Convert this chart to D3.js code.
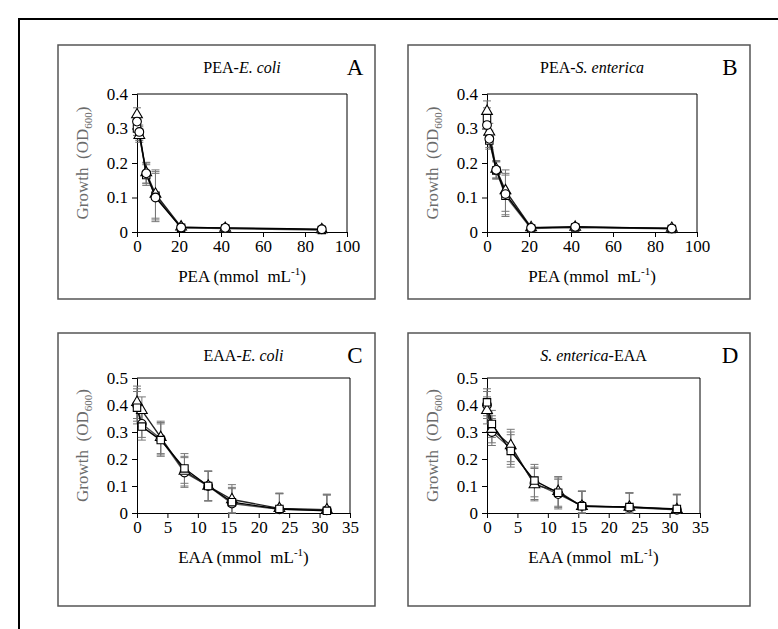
<!DOCTYPE html>
<html>
<head>
<meta charset="utf-8">
<script src="https://cdn.jsdelivr.net/npm/d3@7/dist/d3.min.js"></script>
<style>
  body { margin: 0; background: #fff; }
  svg text { font-family: "Liberation Serif", "Times New Roman", Times, "DejaVu Serif", serif !important; }
</style>
</head>
<body>
<svg id="fig" width="778" height="629"></svg>
<script>
// concentrations (mmol mL-1)
var peaDose = [0, 1.1, 4.4, 8.8, 21, 42, 88];
var eaaDose = [0, 0.8, 3.9, 7.8, 11.7, 15.6, 23.4, 31.2];

// A: PEA - E. coli
var aCircle = [0.32, 0.29, 0.17, 0.10, 0.013, 0.012, 0.008];
var aTriangle = [0.34, 0.28, 0.172, 0.11, 0.015, 0.011, 0.007];
var aSquare = [0.30, 0.285, 0.165, 0.105, 0.012, 0.010, 0.006];
var aErr = [0.02, 0.02, 0.03, 0.07, 0.004, 0.004, 0.003];

// B: PEA - S. enterica
var bCircle = [0.31, 0.27, 0.18, 0.11, 0.012, 0.015, 0.010];
var bTriangle = [0.35, 0.29, 0.182, 0.12, 0.013, 0.014, 0.011];
var bSquare = [0.33, 0.265, 0.178, 0.105, 0.010, 0.013, 0.009];
var bErr = [0.03, 0.025, 0.025, 0.06, 0.004, 0.004, 0.003];

// C: EAA - E. coli
var cSquare = [0.39, 0.32, 0.27, 0.165, 0.10, 0.04, 0.015, 0.008];
var cTriangle = [0.41, 0.38, 0.28, 0.155, 0.10, 0.05, 0.017, 0.012];
var cCircle = [0.40, 0.33, 0.275, 0.15, 0.10, 0.035, 0.014, 0.010];
var cErr = [0.06, 0.05, 0.06, 0.055, 0.055, 0.055, 0.057, 0.058];

// D: S. enterica - EAA
var dSquare = [0.41, 0.33, 0.23, 0.12, 0.075, 0.025, 0.022, 0.015];
var dTriangle = [0.38, 0.31, 0.25, 0.105, 0.08, 0.025, 0.022, 0.013];
var dCircle = [0.40, 0.30, 0.24, 0.11, 0.07, 0.027, 0.020, 0.012];
var dErr = [0.05, 0.05, 0.06, 0.06, 0.055, 0.055, 0.053, 0.055];

var peaTicks = [0, 20, 40, 60, 80, 100];
var eaaTicks = [0, 5, 10, 15, 20, 25, 30, 35];
var peaGrowthTicks = [0, 0.1, 0.2, 0.3, 0.4];
var eaaGrowthTicks = [0, 0.1, 0.2, 0.3, 0.4, 0.5];

var serif = "'Liberation Serif', 'Times New Roman', serif";
var svg = d3.select("#fig");

// outer frame
svg.append("rect").attr("x", 19).attr("y", 19).attr("width", 800).attr("height", 700)
    .attr("fill", "none").attr("stroke", "#000").attr("stroke-width", 2);

var SQ = d3.symbolSquare, CI = d3.symbolCircle, TR = d3.symbolTriangle;

// series listed in drawing order (last one on top)
var panels = [
    {letter: "A", pre: "PEA-", it: "E. coli", post: "", agent: "PEA", box: [58, 45, 375, 299], px: [137, 347], py: [232, 94],
     dose: peaDose, xmax: 100, xticks: peaTicks, ymax: 0.4, yticks: peaGrowthTicks,
     series: [aSquare, aTriangle, aCircle], shapes: [SQ, TR, CI], err: aErr},
    {letter: "B", pre: "PEA-", it: "S. enterica", post: "", agent: "PEA", box: [408, 45, 750, 299], px: [487, 697], py: [232, 94],
     dose: peaDose, xmax: 100, xticks: peaTicks, ymax: 0.4, yticks: peaGrowthTicks,
     series: [bSquare, bTriangle, bCircle], shapes: [SQ, TR, CI], err: bErr},
    {letter: "C", pre: "EAA-", it: "E. coli", post: "", agent: "EAA", box: [58, 333, 375, 606], px: [137, 350], py: [513, 378],
     dose: eaaDose, xmax: 35, xticks: eaaTicks, ymax: 0.5, yticks: eaaGrowthTicks,
     series: [cCircle, cTriangle, cSquare], shapes: [CI, TR, SQ], err: cErr},
    {letter: "D", pre: "", it: "S. enterica", post: "-EAA", agent: "EAA", box: [408, 333, 750, 606], px: [487, 700], py: [513, 378],
     dose: eaaDose, xmax: 35, xticks: eaaTicks, ymax: 0.5, yticks: eaaGrowthTicks,
     series: [dCircle, dTriangle, dSquare], shapes: [CI, TR, SQ], err: dErr}
];

var lineCol = ["#555", "#222", "#000"];

function symSize(s) { return s === CI ? 60 : s === SQ ? 55 : 50; }

panels.forEach(function(p) {
    var g = svg.append("g").attr("font-family", serif);
    var b = p.box;
    g.append("rect").attr("x", b[0]).attr("y", b[1]).attr("width", b[2] - b[0]).attr("height", b[3] - b[1])
        .attr("fill", "none").attr("stroke", "#555").attr("stroke-width", 1.5);

    var x = d3.scaleLinear().domain([0, p.xmax]).range(p.px);
    var y = d3.scaleLinear().domain([0, p.ymax]).range(p.py);

    // plot frame (top + right)
    g.append("path").attr("d", "M" + p.px[0] + "," + p.py[1] + "H" + p.px[1] + "V" + p.py[0])
        .attr("fill", "none").attr("stroke", "#000").attr("stroke-width", 1);

    var xAxis = g.append("g").attr("transform", "translate(0," + p.py[0] + ")")
        .call(d3.axisBottom(x).tickValues(p.xticks).tickSize(5).tickPadding(3).tickFormat(d3.format("d")));
    var yAxis = g.append("g").attr("transform", "translate(" + p.px[0] + ",0)")
        .call(d3.axisLeft(y).tickValues(p.yticks).tickSize(5).tickPadding(4).tickFormat(function(d) { return d === 0 ? "0" : d3.format(".1f")(d); }));
    [xAxis, yAxis].forEach(function(a) {
        a.attr("font-family", serif).attr("font-size", 17);
        a.select(".domain").attr("stroke", "#000");
        a.selectAll("line").attr("stroke", "#000");
        a.selectAll("text").attr("fill", "#000");
    });

    // title
    var cx = (p.px[0] + p.px[1]) / 2;
    var t = g.append("text").attr("x", cx).attr("y", b[1] + 28).attr("text-anchor", "middle").attr("font-size", 16);
    if (p.pre) t.append("tspan").text(p.pre);
    t.append("tspan").attr("font-style", "italic").text(p.it);
    if (p.post) t.append("tspan").text(p.post);

    g.append("text").attr("x", b[2] - 20).attr("y", b[1] + 30).attr("text-anchor", "middle")
        .attr("font-size", 23).text(p.letter);

    // x title
    var xt = g.append("text").attr("x", cx).attr("y", p.py[0] + 50).attr("text-anchor", "middle").attr("font-size", 17);
    xt.append("tspan").text(p.agent + " (mmol\u00a0 mL");
    xt.append("tspan").attr("font-size", 11).attr("dy", -7).text("-1");
    xt.append("tspan").attr("dy", 7).text(")");

    // y title
    var yt = g.append("text").attr("transform", "translate(" + (b[0] + 30) + "," + ((p.py[0] + p.py[1]) / 2) + ") rotate(-90)")
        .attr("text-anchor", "middle").attr("font-size", 17).attr("fill", "#6b6b6b");
    yt.append("tspan").text("Growth\u00a0 (OD");
    yt.append("tspan").attr("font-size", 11).attr("dy", 4).text("600");
    yt.append("tspan").attr("dy", -4).text(")");

    // error bars
    p.series.forEach(function(s) {
        var eb = g.append("g").attr("stroke", "#777").attr("stroke-width", 1);
        s.forEach(function(v, i) {
            var xx = x(p.dose[i]);
            var lo = y(Math.max(0, v - p.err[i])), hi = y(v + p.err[i]);
            eb.append("line").attr("x1", xx).attr("x2", xx).attr("y1", lo).attr("y2", hi);
            eb.append("line").attr("x1", xx - 4).attr("x2", xx + 4).attr("y1", hi).attr("y2", hi);
            eb.append("line").attr("x1", xx - 4).attr("x2", xx + 4).attr("y1", lo).attr("y2", lo);
        });
    });

    // lines + markers
    var line = d3.line().x(function(d, i) { return x(p.dose[i]); }).y(function(d) { return y(d); });
    p.series.forEach(function(s, k) {
        g.append("path").datum(s).attr("d", line).attr("fill", "none")
            .attr("stroke", lineCol[k]).attr("stroke-width", 1.4);
    });
    p.series.forEach(function(s, k) {
        var shp = p.shapes[k];
        g.selectAll(null).data(s).enter().append("path")
            .attr("d", d3.symbol().type(shp).size(symSize(shp)))
            .attr("transform", function(d, i) { return "translate(" + x(p.dose[i]) + "," + y(d) + ")"; })
            .attr("fill", "#fff").attr("stroke", "#000").attr("stroke-width", 1.1);
    });
});
</script>
</body>
</html>
